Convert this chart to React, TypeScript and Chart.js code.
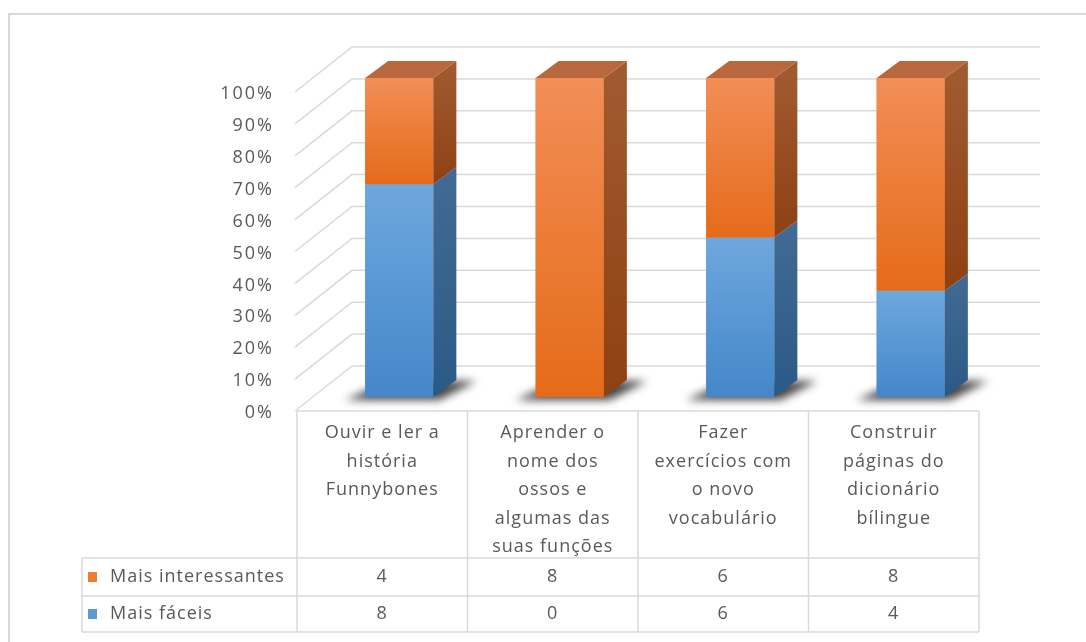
import { useEffect, useRef } from 'react';
import { Chart, registerables } from 'chart.js';

Chart.register(...registerables);

// ---- data ----
const categories: string[][] = [
  ['Ouvir e ler a', 'história', 'Funnybones'],
  ['Aprender o', 'nome dos', 'ossos e', 'algumas das', 'suas funções'],
  ['Fazer', 'exercícios com', 'o novo', 'vocabulário'],
  ['Construir', 'páginas do', 'dicionário', 'bílingue'],
];
const seriesFaceisName = 'Mais fáceis';
const seriesInteressantesName = 'Mais interessantes';
const maisFaceis = [8, 0, 6, 4];
const maisInteressantes = [4, 8, 6, 8];
const yTickStep = 10;
const yMax = 100;

// ---- style ----
const FONT = '"Open Sans", sans-serif';
const TEXT = '#595959';
const GRID = '#d9d9d9';
const DX = 23; // bar depth
const DY = -17;
const FRONT_DX = -17; // front (label) plane offset from bar plane
const FRONT_DY = 14;
const BACK_DXL = 38;
const BACK_DXR = 44;
const BACK_DY = -31;

const totals = maisFaceis.map((v, i) => v + maisInteressantes[i]);
const pctFaceis = maisFaceis.map((v, i) => (v / totals[i]) * 100);
const pctInteressantes = maisInteressantes.map((v, i) => (v / totals[i]) * 100);

const palettes = [
  { front: ['#6EA7DD', '#4487CA'], side: ['#426B94', '#2B5986'], top: '#5A8CC0', flat: '#5B9BD5' },
  { front: ['#F28E57', '#E56B19'], side: ['#A25B31', '#8E4113'], top: '#B9683D', flat: '#ED7D31' },
];

const excel3d = {
  id: 'excel3d',
  beforeDraw(chart: any) {
    (chart.ctx as any).letterSpacing = '2px';
  },
  beforeDatasetsDraw(chart: any) {
    const { ctx, chartArea, scales } = chart;
    const y = scales.y;
    ctx.save();
    // chart border (top & left)
    ctx.strokeStyle = GRID;
    ctx.lineWidth = 2;
    ctx.beginPath();
    ctx.moveTo(9, 642);
    ctx.lineTo(9, 14);
    ctx.lineTo(1086, 14);
    ctx.stroke();
    // walls grid
    ctx.lineWidth = 1.5;
    y.ticks.forEach((t: any) => {
      const py = y.getPixelForValue(t.value);
      ctx.beginPath();
      ctx.moveTo(chartArea.left + FRONT_DX - 2, py + FRONT_DY);
      ctx.lineTo(chartArea.left + BACK_DXL, py + BACK_DY);
      ctx.lineTo(chartArea.right + BACK_DXR, py + BACK_DY);
      ctx.stroke();
    });
    // shadows
    const meta = chart.getDatasetMeta(0);
    const base = y.getPixelForValue(0);
    meta.data.forEach((el: any) => {
      const p = el.getProps(['x', 'width'], true);
      const l = p.x - p.width / 2;
      const r = p.x + p.width / 2;
      ctx.save();
      ctx.filter = 'blur(4px)';
      ctx.fillStyle = 'rgba(0,0,0,0.72)';
      ctx.beginPath();
      ctx.moveTo(l - 20, base + 3);
      ctx.lineTo(r + 6, base + 3);
      ctx.lineTo(r + DX + 20, base + DY + 1);
      ctx.lineTo(l + DX, base + DY + 1);
      ctx.closePath();
      ctx.fill();
      ctx.restore();
    });
    ctx.restore();
  },
  afterDatasetsDraw(chart: any) {
    const { ctx, chartArea, scales } = chart;
    const x = scales.x;
    const y = scales.y;
    ctx.save();
    const n = chart.data.labels.length;
    for (let i = 0; i < n; i++) {
      // find top-most non-empty segment
      let topDs = -1;
      chart.data.datasets.forEach((ds: any, d: number) => {
        if (ds.data[i] > 0) topDs = d;
      });
      chart.data.datasets.forEach((ds: any, d: number) => {
        if (!(ds.data[i] > 0)) return;
        const el = chart.getDatasetMeta(d).data[i];
        const p = el.getProps(['x', 'y', 'base', 'width'], true);
        const l = p.x - p.width / 2;
        const r = p.x + p.width / 2;
        const top = Math.min(p.y, p.base);
        const bot = Math.max(p.y, p.base);
        const pal = palettes[d];
        // front
        const gf = ctx.createLinearGradient(0, top, 0, bot);
        gf.addColorStop(0, pal.front[0]);
        gf.addColorStop(1, pal.front[1]);
        ctx.fillStyle = gf;
        ctx.fillRect(l, top, r - l, bot - top);
        // side
        const gs = ctx.createLinearGradient(0, top + DY, 0, bot);
        gs.addColorStop(0, pal.side[0]);
        gs.addColorStop(1, pal.side[1]);
        ctx.fillStyle = gs;
        ctx.beginPath();
        ctx.moveTo(r, top);
        ctx.lineTo(r + DX, top + DY);
        ctx.lineTo(r + DX, bot + DY);
        ctx.lineTo(r, bot);
        ctx.closePath();
        ctx.fill();
        if (d === topDs) {
          ctx.fillStyle = pal.top;
          ctx.beginPath();
          ctx.moveTo(l, top);
          ctx.lineTo(r, top);
          ctx.lineTo(r + DX, top + DY);
          ctx.lineTo(l + DX, top + DY);
          ctx.closePath();
          ctx.fill();
        }
      });
    }

    // ---- data table ----
    const colW = (chartArea.right - chartArea.left) / n;
    const tLeft = chartArea.left + FRONT_DX;
    const tRight = chartArea.right + FRONT_DX;
    const tTop = y.getPixelForValue(0) + FRONT_DY;
    const hBot = 558;
    const r1Bot = 596;
    const r2Bot = 632;
    const legL = 82;
    ctx.strokeStyle = GRID;
    ctx.lineWidth = 1.5;
    ctx.beginPath();
    ctx.moveTo(tLeft, tTop);
    ctx.lineTo(tRight, tTop);
    [hBot, r1Bot, r2Bot].forEach((yy) => {
      ctx.moveTo(legL, yy);
      ctx.lineTo(tRight, yy);
    });
    for (let i = 0; i <= n; i++) {
      const xx = tLeft + i * colW;
      ctx.moveTo(xx, tTop);
      ctx.lineTo(xx, r2Bot);
    }
    ctx.moveTo(legL, hBot);
    ctx.lineTo(legL, r2Bot);
    ctx.stroke();

    ctx.fillStyle = TEXT;
    ctx.font = `18px ${FONT}`;
    (ctx as any).letterSpacing = '1px';
    ctx.textAlign = 'center';
    ctx.textBaseline = 'middle';
    const lines = chart.data.labels as string[][];
    for (let i = 0; i < n; i++) {
      const cx = x.getPixelForValue(i) + FRONT_DX;
      lines[i].forEach((ln, k) => ctx.fillText(ln, cx, 433 + k * 28.5));
      ctx.fillText(String(maisInteressantes[i]), cx, (hBot + r1Bot) / 2);
      ctx.fillText(String(maisFaceis[i]), cx, (r1Bot + r2Bot) / 2);
    }
    // legend keys
    ctx.textAlign = 'left';
    ctx.fillStyle = palettes[1].flat;
    ctx.fillRect(88, 572, 9, 10);
    ctx.fillStyle = palettes[0].flat;
    ctx.fillRect(88, 609, 9, 10);
    ctx.fillStyle = TEXT;
    ctx.fillText(seriesInteressantesName, 110, (hBot + r1Bot) / 2);
    ctx.fillText(seriesFaceisName, 110, (r1Bot + r2Bot) / 2);
    ctx.restore();
  },
};

export default function App() {
  const ref = useRef<HTMLCanvasElement | null>(null);
  useEffect(() => {
    if (!ref.current) return;
    const chart = new Chart(ref.current, {
      type: 'bar',
      data: {
        labels: categories,
        datasets: [
          { label: seriesFaceisName, data: pctFaceis, backgroundColor: palettes[0].flat, borderWidth: 0 },
          { label: seriesInteressantesName, data: pctInteressantes, backgroundColor: palettes[1].flat, borderWidth: 0 },
        ],
      },
      options: {
        animation: false,
        responsive: false,
        devicePixelRatio: 1,
        layout: { padding: { left: 0, right: 90, top: 78, bottom: 245 } },
        datasets: { bar: { categoryPercentage: 1, barPercentage: 0.4 } },
        plugins: { legend: { display: false }, tooltip: { enabled: false } },
        scales: {
          x: { display: false, stacked: true },
          y: {
            stacked: true,
            min: 0,
            max: yMax,
            afterFit: (axis: any) => {
              axis.width = 314;
            },
            grid: { display: false, drawTicks: false },
            border: { display: false },
            ticks: {
              stepSize: yTickStep,
              padding: 40,
              labelOffset: 16,
              color: TEXT,
              font: { family: FONT, size: 18 },
              callback: (v: any) => `${v}%`,
            },
          },
        },
      },
      plugins: [excel3d],
    } as any);
    return () => chart.destroy();
  }, []);
  return (
    <div style={{ position: 'fixed', left: 0, top: 0, width: 1086, height: 642, background: '#fff' }}>
      <canvas ref={ref} width={1086} height={642} style={{ display: 'block' }} />
    </div>
  );
}
